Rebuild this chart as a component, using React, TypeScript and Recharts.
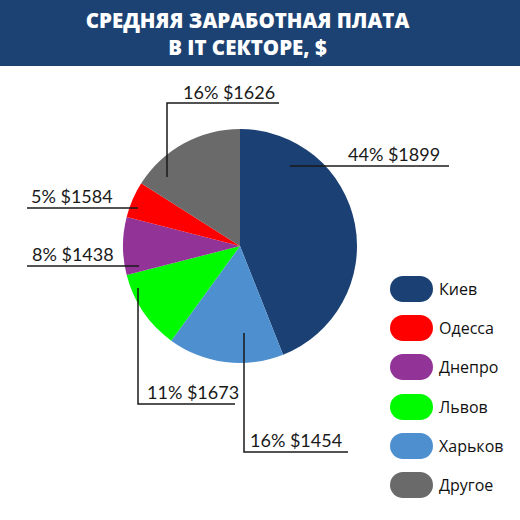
import { PieChart, Pie, Cell, Legend } from "recharts";

const cities = ["Киев", "Харьков", "Львов", "Днепро", "Одесса", "Другое"];
const shares = [44, 16, 11, 8, 5, 16];
const salaries = [1899, 1454, 1673, 1438, 1584, 1626];
const legendOrder = ["Киев", "Одесса", "Днепро", "Львов", "Харьков", "Другое"];

const colors: Record<string, string> = {
  Киев: "#1b4074",
  Харьков: "#4e8fcf",
  Львов: "#00fa00",
  Днепро: "#923397",
  Одесса: "#ff0000",
  Другое: "#6a6a6a",
};

const data = cities.map((name, i) => ({
  name,
  share: shares[i],
  salary: salaries[i],
}));

// leader lines, offsets from the pie centre
const labelLayout: Record<string, { path: number[][]; text: number[] }> = {
  Киев: { path: [[50, -80], [209, -80]], text: [108, -85] },
  Другое: { path: [[-73, -69], [-73, -143], [39, -143]], text: [-57, -147] },
  Одесса: { path: [[-102, -38], [-213, -38]], text: [-209, -43] },
  Днепро: { path: [[-101, 20], [-213, 20]], text: [-208, 15] },
  Львов: { path: [[-102, 42], [-102, 158], [-5, 158]], text: [-93, 153] },
  Харьков: { path: [[4, 87], [4, 206], [108, 206]], text: [10, 201] },
};

const renderLabel = (props: any) => {
  const cx = Number(props.cx);
  const cy = Number(props.cy);
  const d = data[props.index];
  const lay = labelLayout[d.name];
  const pts = lay.path.map(([x, y]) => `${cx + x},${cy + y}`).join(" ");
  return (
    <g key={`lbl-${d.name}`}>
      <polyline points={pts} fill="none" stroke="#1a1a1a" strokeWidth={1.5} />
      <text
        x={cx + lay.text[0]}
        y={cy + lay.text[1]}
        fill="#1a1a1a"
        fontSize={18}
        fontFamily="Lato, 'Noto Sans', sans-serif"
      >
        {`${d.share}% $${d.salary}`}
      </text>
    </g>
  );
};

const renderLegend = () => (
  <div style={{ fontFamily: "'Open Sans', sans-serif", fontSize: 16, color: "#111" }}>
    {legendOrder.map((name) => (
      <div
        key={name}
        style={{ display: "flex", alignItems: "center", height: 39.3 }}
      >
        <div
          style={{
            width: 43,
            height: 26,
            borderRadius: 13,
            background: colors[name],
            marginRight: 6,
          }}
        />
        <span>{name}</span>
      </div>
    ))}
  </div>
);

export default function App() {
  return (
    <div style={{ position: "relative", width: 520, height: 520, background: "#fff" }}>
      <style>{"body{margin:0}"}</style>
      <div
        style={{
          position: "absolute",
          left: 0,
          top: 0,
          width: 520,
          height: 66,
          background: "#1c4273",
          color: "#fff",
          fontFamily: "'Open Sans', sans-serif",
          fontWeight: 800,
          fontSize: 20.5,
          lineHeight: "27px",
          textAlign: "center",
          paddingTop: 7,
          paddingRight: 25,
          boxSizing: "border-box",
          zIndex: 2,
        }}
      >
        СРЕДНЯЯ ЗАРАБОТНАЯ ПЛАТА
        <br />В IT СЕКТОРЕ, $
      </div>
      <PieChart width={520} height={520} margin={{ top: 0, right: 0, bottom: 0, left: 0 }}>
        <Pie
          data={data}
          dataKey="share"
          nameKey="name"
          cx={240}
          cy={246}
          outerRadius={117}
          startAngle={90}
          endAngle={-270}
          stroke="none"
          label={renderLabel}
          labelLine={false}
          isAnimationActive={false}
        >
          {data.map((d) => (
            <Cell key={d.name} fill={colors[d.name]} />
          ))}
        </Pie>
        <Legend
          content={renderLegend}
          wrapperStyle={{ position: "absolute", left: 390, top: 269, width: 130 }}
        />
      </PieChart>
    </div>
  );
}
